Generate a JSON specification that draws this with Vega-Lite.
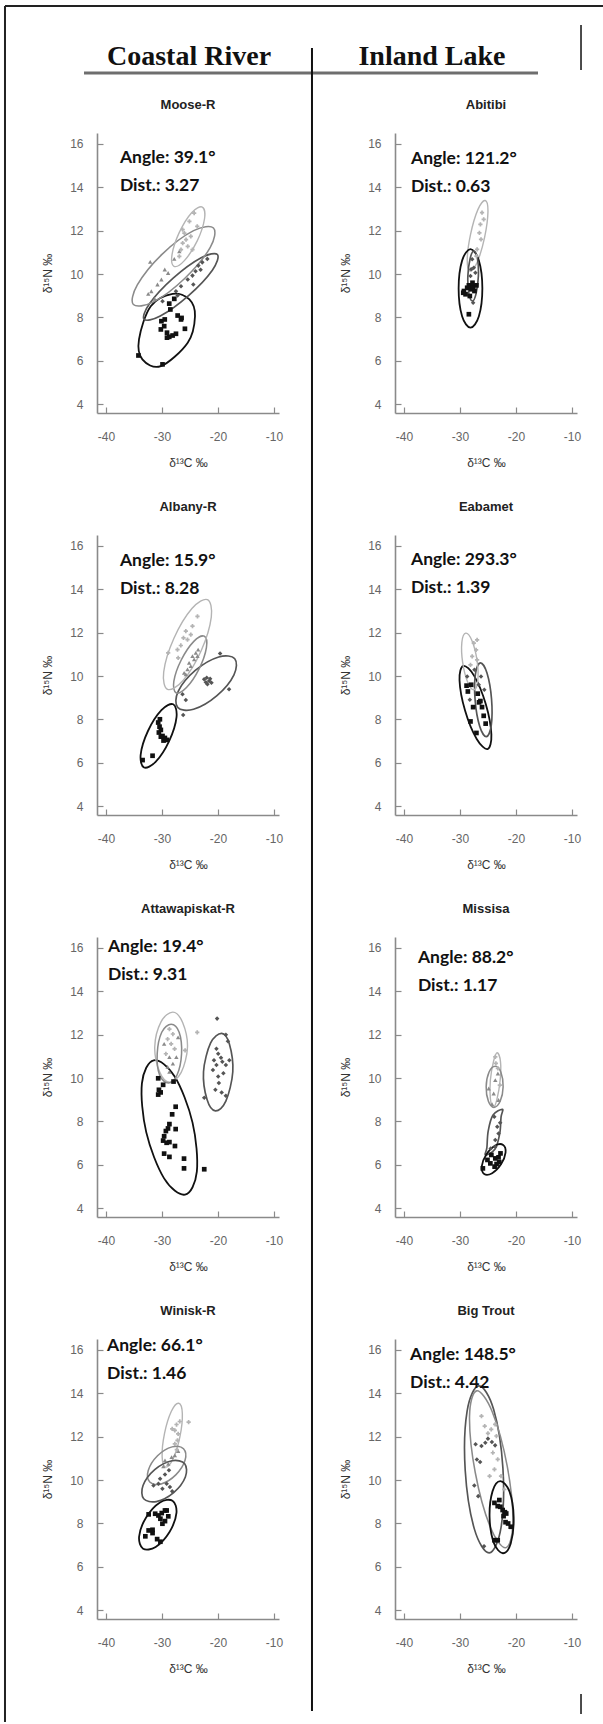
{
"$schema": "https://vega.github.io/schema/vega-lite/v6.json",
"padding": {"left": 3, "top": 5, "right": 0, "bottom": 0},
"background": "white",
"datasets": {
"ann": [
{"p":"Moose-R","t":"Angle: 39.1°\nDist.: 3.27"},
{"p":"Abitibi","t":"Angle: 121.2°\nDist.: 0.63"},
{"p":"Albany-R","t":"Angle: 15.9°\nDist.: 8.28"},
{"p":"Eabamet","t":"Angle: 293.3°\nDist.: 1.39"},
{"p":"Attawapiskat-R","t":"Angle: 19.4°\nDist.: 9.31"},
{"p":"Missisa","t":"Angle: 88.2°\nDist.: 1.17"},
{"p":"Winisk-R","t":"Angle: 66.1°\nDist.: 1.46"},
{"p":"Big Trout","t":"Angle: 148.5°\nDist.: 4.42"}
],
"ell": [
{"p":"Moose-R","g":"k","k":0,"x":-28.1,"y":9.09},{"p":"Moose-R","g":"k","k":1,"x":-25.1,"y":8.83},{"p":"Moose-R","g":"k","k":2,"x":-24.1,"y":8.06},{"p":"Moose-R","g":"k","k":3,"x":-25.4,"y":6.84},{"p":"Moose-R","g":"k","k":4,"x":-30.2,"y":5.76},{"p":"Moose-R","g":"k","k":5,"x":-33.5,"y":6.07},{"p":"Moose-R","g":"k","k":6,"x":-34.1,"y":6.99},{"p":"Moose-R","g":"k","k":7,"x":-32.0,"y":8.52},
{"p":"Moose-R","g":"d","k":0,"x":-20.1,"y":10.9},{"p":"Moose-R","g":"d","k":1,"x":-23.0,"y":10.75},{"p":"Moose-R","g":"d","k":2,"x":-28.0,"y":9.81},{"p":"Moose-R","g":"d","k":3,"x":-32.2,"y":8.64},{"p":"Moose-R","g":"d","k":4,"x":-33.2,"y":7.92},{"p":"Moose-R","g":"d","k":5,"x":-30.3,"y":8.07},{"p":"Moose-R","g":"d","k":6,"x":-25.25,"y":9.01},{"p":"Moose-R","g":"d","k":7,"x":-21.0,"y":10.18},
{"p":"Moose-R","g":"m","k":0,"x":-20.8,"y":12.12},{"p":"Moose-R","g":"m","k":1,"x":-24.35,"y":12.0},{"p":"Moose-R","g":"m","k":2,"x":-30.0,"y":10.91},{"p":"Moose-R","g":"m","k":3,"x":-34.4,"y":9.5},{"p":"Moose-R","g":"m","k":4,"x":-35.1,"y":8.6},{"p":"Moose-R","g":"m","k":5,"x":-31.5,"y":8.72},{"p":"Moose-R","g":"m","k":6,"x":-25.9,"y":9.81},{"p":"Moose-R","g":"m","k":7,"x":-21.4,"y":11.22},
{"p":"Moose-R","g":"l","k":0,"x":-22.8,"y":13.09},{"p":"Moose-R","g":"l","k":1,"x":-24.7,"y":12.83},{"p":"Moose-R","g":"l","k":2,"x":-26.9,"y":11.92},{"p":"Moose-R","g":"l","k":3,"x":-28.2,"y":10.9},{"p":"Moose-R","g":"l","k":4,"x":-27.85,"y":10.36},{"p":"Moose-R","g":"l","k":5,"x":-26.0,"y":10.62},{"p":"Moose-R","g":"l","k":6,"x":-23.7,"y":11.53},{"p":"Moose-R","g":"l","k":7,"x":-22.4,"y":12.55},
{"p":"Abitibi","g":"l","k":0,"x":-25.5,"y":13.39},{"p":"Abitibi","g":"l","k":1,"x":-26.8,"y":12.97},{"p":"Abitibi","g":"l","k":2,"x":-28.1,"y":11.84},{"p":"Abitibi","g":"l","k":3,"x":-28.7,"y":10.67},{"p":"Abitibi","g":"l","k":4,"x":-28.2,"y":10.14},{"p":"Abitibi","g":"l","k":5,"x":-26.9,"y":10.56},{"p":"Abitibi","g":"l","k":6,"x":-25.6,"y":11.69},{"p":"Abitibi","g":"l","k":7,"x":-25.0,"y":12.87},
{"p":"Abitibi","g":"k","k":0,"x":-28.12,"y":11.15},{"p":"Abitibi","g":"k","k":1,"x":-26.62,"y":10.62},{"p":"Abitibi","g":"k","k":2,"x":-26.0,"y":9.34},{"p":"Abitibi","g":"k","k":3,"x":-26.62,"y":8.06},{"p":"Abitibi","g":"k","k":4,"x":-28.12,"y":7.53},{"p":"Abitibi","g":"k","k":5,"x":-29.62,"y":8.06},{"p":"Abitibi","g":"k","k":6,"x":-30.24,"y":9.34},{"p":"Abitibi","g":"k","k":7,"x":-29.62,"y":10.62},
{"p":"Abitibi","g":"d","k":0,"x":-27.53,"y":11.06},{"p":"Abitibi","g":"d","k":1,"x":-26.88,"y":10.72},{"p":"Abitibi","g":"d","k":2,"x":-26.71,"y":9.91},{"p":"Abitibi","g":"d","k":3,"x":-27.12,"y":9.1},{"p":"Abitibi","g":"d","k":4,"x":-27.76,"y":8.76},{"p":"Abitibi","g":"d","k":5,"x":-28.41,"y":9.1},{"p":"Abitibi","g":"d","k":6,"x":-28.59,"y":9.91},{"p":"Abitibi","g":"d","k":7,"x":-28.18,"y":10.72},
{"p":"Albany-R","g":"k","k":0,"x":-28.0,"y":8.7},{"p":"Albany-R","g":"k","k":1,"x":-30.1,"y":8.43},{"p":"Albany-R","g":"k","k":2,"x":-32.5,"y":7.47},{"p":"Albany-R","g":"k","k":3,"x":-33.8,"y":6.38},{"p":"Albany-R","g":"k","k":4,"x":-33.2,"y":5.79},{"p":"Albany-R","g":"k","k":5,"x":-31.1,"y":6.06},{"p":"Albany-R","g":"k","k":6,"x":-28.7,"y":7.02},{"p":"Albany-R","g":"k","k":7,"x":-27.4,"y":8.11},
{"p":"Albany-R","g":"d","k":0,"x":-17.0,"y":10.8},{"p":"Albany-R","g":"d","k":1,"x":-19.87,"y":10.88},{"p":"Albany-R","g":"d","k":2,"x":-24.05,"y":10.26},{"p":"Albany-R","g":"d","k":3,"x":-27.1,"y":9.3},{"p":"Albany-R","g":"d","k":4,"x":-27.2,"y":8.56},{"p":"Albany-R","g":"d","k":5,"x":-24.36,"y":8.47},{"p":"Albany-R","g":"d","k":6,"x":-20.18,"y":9.1},{"p":"Albany-R","g":"d","k":7,"x":-17.14,"y":10.06},
{"p":"Albany-R","g":"m","k":0,"x":-22.44,"y":11.84},{"p":"Albany-R","g":"m","k":1,"x":-24.31,"y":11.6},{"p":"Albany-R","g":"m","k":2,"x":-26.56,"y":10.74},{"p":"Albany-R","g":"m","k":3,"x":-27.88,"y":9.76},{"p":"Albany-R","g":"m","k":4,"x":-27.49,"y":9.23},{"p":"Albany-R","g":"m","k":5,"x":-25.62,"y":9.47},{"p":"Albany-R","g":"m","k":6,"x":-23.37,"y":10.33},{"p":"Albany-R","g":"m","k":7,"x":-22.06,"y":11.31},
{"p":"Albany-R","g":"l","k":0,"x":-21.88,"y":13.52},{"p":"Albany-R","g":"l","k":1,"x":-24.65,"y":13.11},{"p":"Albany-R","g":"l","k":2,"x":-27.88,"y":11.73},{"p":"Albany-R","g":"l","k":3,"x":-29.69,"y":10.19},{"p":"Albany-R","g":"l","k":4,"x":-29.0,"y":9.39},{"p":"Albany-R","g":"l","k":5,"x":-26.23,"y":9.8},{"p":"Albany-R","g":"l","k":6,"x":-23.0,"y":11.17},{"p":"Albany-R","g":"l","k":7,"x":-21.19,"y":12.72},
{"p":"Eabamet","g":"k","k":0,"x":-25.06,"y":6.64},{"p":"Eabamet","g":"k","k":1,"x":-27.01,"y":7.1},{"p":"Eabamet","g":"k","k":2,"x":-29.09,"y":8.41},{"p":"Eabamet","g":"k","k":3,"x":-30.08,"y":9.81},{"p":"Eabamet","g":"k","k":4,"x":-29.41,"y":10.47},{"p":"Eabamet","g":"k","k":5,"x":-27.46,"y":10.01},{"p":"Eabamet","g":"k","k":6,"x":-25.38,"y":8.7},{"p":"Eabamet","g":"k","k":7,"x":-24.39,"y":7.31},
{"p":"Eabamet","g":"d","k":0,"x":-25.29,"y":7.21},{"p":"Eabamet","g":"d","k":1,"x":-26.48,"y":7.69},{"p":"Eabamet","g":"d","k":2,"x":-27.29,"y":8.88},{"p":"Eabamet","g":"d","k":3,"x":-27.24,"y":10.09},{"p":"Eabamet","g":"d","k":4,"x":-26.35,"y":10.61},{"p":"Eabamet","g":"d","k":5,"x":-25.16,"y":10.13},{"p":"Eabamet","g":"d","k":6,"x":-24.36,"y":8.94},{"p":"Eabamet","g":"d","k":7,"x":-24.41,"y":7.73},
{"p":"Eabamet","g":"l","k":0,"x":-27.5,"y":9.37},{"p":"Eabamet","g":"l","k":1,"x":-28.62,"y":9.72},{"p":"Eabamet","g":"l","k":2,"x":-29.52,"y":10.63},{"p":"Eabamet","g":"l","k":3,"x":-29.66,"y":11.56},{"p":"Eabamet","g":"l","k":4,"x":-28.97,"y":11.98},{"p":"Eabamet","g":"l","k":5,"x":-27.85,"y":11.63},{"p":"Eabamet","g":"l","k":6,"x":-26.95,"y":10.72},{"p":"Eabamet","g":"l","k":7,"x":-26.81,"y":9.79},
{"p":"Attawapiskat-R","g":"k","k":0,"x":-25.87,"y":4.63},{"p":"Attawapiskat-R","g":"k","k":1,"x":-29.62,"y":5.38},{"p":"Attawapiskat-R","g":"k","k":2,"x":-32.81,"y":7.51},{"p":"Attawapiskat-R","g":"k","k":3,"x":-33.58,"y":9.76},{"p":"Attawapiskat-R","g":"k","k":4,"x":-31.47,"y":10.82},{"p":"Attawapiskat-R","g":"k","k":5,"x":-27.73,"y":10.07},{"p":"Attawapiskat-R","g":"k","k":6,"x":-24.54,"y":7.95},{"p":"Attawapiskat-R","g":"k","k":7,"x":-23.77,"y":5.69},
{"p":"Attawapiskat-R","g":"l","k":0,"x":-28.05,"y":13.04},{"p":"Attawapiskat-R","g":"l","k":1,"x":-26.31,"y":12.56},{"p":"Attawapiskat-R","g":"l","k":2,"x":-25.44,"y":11.43},{"p":"Attawapiskat-R","g":"l","k":3,"x":-26.56,"y":10.26},{"p":"Attawapiskat-R","g":"l","k":4,"x":-28.67,"y":9.81},{"p":"Attawapiskat-R","g":"l","k":5,"x":-30.42,"y":10.29},{"p":"Attawapiskat-R","g":"l","k":6,"x":-31.29,"y":11.43},{"p":"Attawapiskat-R","g":"l","k":7,"x":-30.17,"y":12.59},
{"p":"Attawapiskat-R","g":"m","k":0,"x":-28.36,"y":12.48},{"p":"Attawapiskat-R","g":"m","k":1,"x":-26.93,"y":12.11},{"p":"Attawapiskat-R","g":"m","k":2,"x":-26.5,"y":11.12},{"p":"Attawapiskat-R","g":"m","k":3,"x":-27.31,"y":10.14},{"p":"Attawapiskat-R","g":"m","k":4,"x":-28.86,"y":9.77},{"p":"Attawapiskat-R","g":"m","k":5,"x":-30.42,"y":10.14},{"p":"Attawapiskat-R","g":"m","k":6,"x":-30.85,"y":11.12},{"p":"Attawapiskat-R","g":"m","k":7,"x":-30.04,"y":12.11},
{"p":"Attawapiskat-R","g":"d","k":0,"x":-19.34,"y":12.06},{"p":"Attawapiskat-R","g":"d","k":1,"x":-17.97,"y":11.58},{"p":"Attawapiskat-R","g":"d","k":2,"x":-17.35,"y":10.29},{"p":"Attawapiskat-R","g":"d","k":3,"x":-18.59,"y":8.94},{"p":"Attawapiskat-R","g":"d","k":4,"x":-20.46,"y":8.49},{"p":"Attawapiskat-R","g":"d","k":5,"x":-21.95,"y":9.01},{"p":"Attawapiskat-R","g":"d","k":6,"x":-22.58,"y":10.29},{"p":"Attawapiskat-R","g":"d","k":7,"x":-21.33,"y":11.61},
{"p":"Missisa","g":"l","k":0,"x":-23.34,"y":11.17},{"p":"Missisa","g":"l","k":1,"x":-22.76,"y":10.75},{"p":"Missisa","g":"l","k":2,"x":-22.82,"y":9.91},{"p":"Missisa","g":"l","k":3,"x":-23.4,"y":9.02},{"p":"Missisa","g":"l","k":4,"x":-24.04,"y":8.65},{"p":"Missisa","g":"l","k":5,"x":-24.57,"y":9.06},{"p":"Missisa","g":"l","k":6,"x":-24.57,"y":9.91},{"p":"Missisa","g":"l","k":7,"x":-23.98,"y":10.8},
{"p":"Missisa","g":"m","k":0,"x":-23.69,"y":10.55},{"p":"Missisa","g":"m","k":1,"x":-22.7,"y":10.28},{"p":"Missisa","g":"m","k":2,"x":-22.29,"y":9.6},{"p":"Missisa","g":"m","k":3,"x":-22.82,"y":8.93},{"p":"Missisa","g":"m","k":4,"x":-23.93,"y":8.65},{"p":"Missisa","g":"m","k":5,"x":-24.92,"y":8.93},{"p":"Missisa","g":"m","k":6,"x":-25.32,"y":9.6},{"p":"Missisa","g":"m","k":7,"x":-24.8,"y":10.28},
{"p":"Missisa","g":"d","k":0,"x":-22.41,"y":8.56},{"p":"Missisa","g":"d","k":1,"x":-24.12,"y":8.29},{"p":"Missisa","g":"d","k":2,"x":-24.96,"y":7.56},{"p":"Missisa","g":"d","k":3,"x":-25.19,"y":6.8},{"p":"Missisa","g":"d","k":4,"x":-25.44,"y":6.46},{"p":"Missisa","g":"d","k":5,"x":-23.73,"y":6.73},{"p":"Missisa","g":"d","k":6,"x":-22.89,"y":7.45},{"p":"Missisa","g":"d","k":7,"x":-22.66,"y":8.21},
{"p":"Missisa","g":"k","k":0,"x":-22.29,"y":6.92},{"p":"Missisa","g":"k","k":1,"x":-23.71,"y":6.89},{"p":"Missisa","g":"k","k":2,"x":-25.29,"y":6.48},{"p":"Missisa","g":"k","k":3,"x":-26.1,"y":5.94},{"p":"Missisa","g":"k","k":4,"x":-25.67,"y":5.58},{"p":"Missisa","g":"k","k":5,"x":-24.25,"y":5.62},{"p":"Missisa","g":"k","k":6,"x":-22.67,"y":6.03},{"p":"Missisa","g":"k","k":7,"x":-21.86,"y":6.57},
{"p":"Winisk-R","g":"l","k":0,"x":-27.0,"y":13.54},{"p":"Winisk-R","g":"l","k":1,"x":-28.32,"y":13.17},{"p":"Winisk-R","g":"l","k":2,"x":-29.54,"y":12.15},{"p":"Winisk-R","g":"l","k":3,"x":-29.97,"y":11.08},{"p":"Winisk-R","g":"l","k":4,"x":-29.34,"y":10.6},{"p":"Winisk-R","g":"l","k":5,"x":-28.01,"y":10.98},{"p":"Winisk-R","g":"l","k":6,"x":-26.79,"y":12.0},{"p":"Winisk-R","g":"l","k":7,"x":-26.36,"y":13.06},
{"p":"Winisk-R","g":"m","k":0,"x":-26.15,"y":11.44},{"p":"Winisk-R","g":"m","k":1,"x":-28.18,"y":11.53},{"p":"Winisk-R","g":"m","k":2,"x":-30.79,"y":11.12},{"p":"Winisk-R","g":"m","k":3,"x":-32.45,"y":10.44},{"p":"Winisk-R","g":"m","k":4,"x":-32.18,"y":9.91},{"p":"Winisk-R","g":"m","k":5,"x":-30.14,"y":9.82},{"p":"Winisk-R","g":"m","k":6,"x":-27.53,"y":10.24},{"p":"Winisk-R","g":"m","k":7,"x":-25.88,"y":10.91},
{"p":"Winisk-R","g":"d","k":0,"x":-25.94,"y":10.75},{"p":"Winisk-R","g":"d","k":1,"x":-28.21,"y":10.89},{"p":"Winisk-R","g":"d","k":2,"x":-31.29,"y":10.48},{"p":"Winisk-R","g":"d","k":3,"x":-33.38,"y":9.75},{"p":"Winisk-R","g":"d","k":4,"x":-33.26,"y":9.14},{"p":"Winisk-R","g":"d","k":5,"x":-30.99,"y":9.01},{"p":"Winisk-R","g":"d","k":6,"x":-27.91,"y":9.42},{"p":"Winisk-R","g":"d","k":7,"x":-25.82,"y":10.14},
{"p":"Winisk-R","g":"k","k":0,"x":-28.12,"y":9.05},{"p":"Winisk-R","g":"k","k":1,"x":-30.36,"y":8.97},{"p":"Winisk-R","g":"k","k":2,"x":-32.83,"y":8.28},{"p":"Winisk-R","g":"k","k":3,"x":-34.08,"y":7.4},{"p":"Winisk-R","g":"k","k":4,"x":-33.37,"y":6.84},{"p":"Winisk-R","g":"k","k":5,"x":-31.12,"y":6.92},{"p":"Winisk-R","g":"k","k":6,"x":-28.65,"y":7.61},{"p":"Winisk-R","g":"k","k":7,"x":-27.41,"y":8.49},
{"p":"Big Trout","g":"d","k":0,"x":-24.77,"y":6.65},{"p":"Big Trout","g":"d","k":1,"x":-27.42,"y":7.74},{"p":"Big Trout","g":"d","k":2,"x":-29.06,"y":10.44},{"p":"Big Trout","g":"d","k":3,"x":-28.73,"y":13.17},{"p":"Big Trout","g":"d","k":4,"x":-26.63,"y":14.34},{"p":"Big Trout","g":"d","k":5,"x":-23.98,"y":13.25},{"p":"Big Trout","g":"d","k":6,"x":-22.33,"y":10.55},{"p":"Big Trout","g":"d","k":7,"x":-22.66,"y":7.82},
{"p":"Big Trout","g":"m","k":0,"x":-21.8,"y":6.88},{"p":"Big Trout","g":"m","k":1,"x":-24.59,"y":7.84},{"p":"Big Trout","g":"m","k":2,"x":-27.27,"y":10.35},{"p":"Big Trout","g":"m","k":3,"x":-28.29,"y":12.94},{"p":"Big Trout","g":"m","k":4,"x":-27.03,"y":14.11},{"p":"Big Trout","g":"m","k":5,"x":-24.24,"y":13.15},{"p":"Big Trout","g":"m","k":6,"x":-21.56,"y":10.64},{"p":"Big Trout","g":"m","k":7,"x":-20.55,"y":8.04},
{"p":"Big Trout","g":"k","k":0,"x":-22.79,"y":9.95},{"p":"Big Trout","g":"k","k":1,"x":-21.16,"y":9.48},{"p":"Big Trout","g":"k","k":2,"x":-20.41,"y":8.29},{"p":"Big Trout","g":"k","k":3,"x":-20.93,"y":7.08},{"p":"Big Trout","g":"k","k":4,"x":-22.33,"y":6.63},{"p":"Big Trout","g":"k","k":5,"x":-23.95,"y":7.11},{"p":"Big Trout","g":"k","k":6,"x":-24.71,"y":8.29},{"p":"Big Trout","g":"k","k":7,"x":-24.19,"y":9.48}
],
"pts": [
{"p":"Moose-R","g":"k","x":-34.2,"y":6.25},{"p":"Moose-R","g":"k","x":-29.9,"y":5.84},{"p":"Moose-R","g":"k","x":-28.7,"y":8.64},{"p":"Moose-R","g":"k","x":-28.5,"y":8.37},{"p":"Moose-R","g":"k","x":-27.2,"y":8.09},{"p":"Moose-R","g":"k","x":-26.6,"y":7.91},{"p":"Moose-R","g":"k","x":-30.1,"y":7.83},{"p":"Moose-R","g":"k","x":-29.6,"y":7.6},{"p":"Moose-R","g":"k","x":-30.2,"y":7.45},{"p":"Moose-R","g":"k","x":-29.1,"y":7.3},{"p":"Moose-R","g":"k","x":-28.7,"y":7.11},{"p":"Moose-R","g":"k","x":-28.1,"y":7.17},{"p":"Moose-R","g":"k","x":-27.5,"y":7.25},{"p":"Moose-R","g":"k","x":-25.9,"y":7.48},{"p":"Moose-R","g":"k","x":-26.5,"y":7.98},{"p":"Moose-R","g":"k","x":-29.5,"y":7.91},{"p":"Moose-R","g":"k","x":-27.8,"y":8.86},{"p":"Moose-R","g":"k","x":-29.1,"y":7.07},
{"p":"Moose-R","g":"d","x":-27.5,"y":9.21},{"p":"Moose-R","g":"d","x":-26.6,"y":9.44},{"p":"Moose-R","g":"d","x":-25.4,"y":9.75},{"p":"Moose-R","g":"d","x":-24.55,"y":9.93},{"p":"Moose-R","g":"d","x":-24.0,"y":10.13},{"p":"Moose-R","g":"d","x":-23.5,"y":10.39},{"p":"Moose-R","g":"d","x":-22.8,"y":10.54},{"p":"Moose-R","g":"d","x":-21.9,"y":10.7},{"p":"Moose-R","g":"d","x":-24.4,"y":9.52},{"p":"Moose-R","g":"d","x":-27.2,"y":9.01},{"p":"Moose-R","g":"d","x":-29.9,"y":8.75},{"p":"Moose-R","g":"d","x":-23.1,"y":10.2},
{"p":"Moose-R","g":"m","x":-32.1,"y":10.56},{"p":"Moose-R","g":"m","x":-31.9,"y":9.21},{"p":"Moose-R","g":"m","x":-30.8,"y":9.52},{"p":"Moose-R","g":"m","x":-30.1,"y":9.75},{"p":"Moose-R","g":"m","x":-28.9,"y":10.05},{"p":"Moose-R","g":"m","x":-32.45,"y":9.09},{"p":"Moose-R","g":"m","x":-31.3,"y":8.86},{"p":"Moose-R","g":"m","x":-29.5,"y":10.21},{"p":"Moose-R","g":"m","x":-27.8,"y":10.7},{"p":"Moose-R","g":"m","x":-26.9,"y":11.05},
{"p":"Moose-R","g":"l","x":-24.25,"y":12.81},{"p":"Moose-R","g":"l","x":-25.1,"y":12.43},{"p":"Moose-R","g":"l","x":-26.0,"y":11.89},{"p":"Moose-R","g":"l","x":-26.3,"y":11.43},{"p":"Moose-R","g":"l","x":-25.7,"y":11.59},{"p":"Moose-R","g":"l","x":-24.85,"y":11.74},{"p":"Moose-R","g":"l","x":-25.4,"y":11.28},{"p":"Moose-R","g":"l","x":-26.6,"y":11.13},{"p":"Moose-R","g":"l","x":-24.55,"y":11.13},{"p":"Moose-R","g":"l","x":-26.9,"y":10.82},{"p":"Moose-R","g":"l","x":-23.7,"y":12.2},{"p":"Moose-R","g":"l","x":-26.3,"y":12.05},
{"p":"Abitibi","g":"k","x":-29.29,"y":9.22},{"p":"Abitibi","g":"k","x":-28.71,"y":9.37},{"p":"Abitibi","g":"k","x":-28.41,"y":9.48},{"p":"Abitibi","g":"k","x":-28.0,"y":9.3},{"p":"Abitibi","g":"k","x":-27.65,"y":9.42},{"p":"Abitibi","g":"k","x":-27.41,"y":9.22},{"p":"Abitibi","g":"k","x":-27.06,"y":9.48},{"p":"Abitibi","g":"k","x":-29.0,"y":9.07},{"p":"Abitibi","g":"k","x":-28.24,"y":8.99},{"p":"Abitibi","g":"k","x":-27.76,"y":9.6},{"p":"Abitibi","g":"k","x":-28.41,"y":8.15},{"p":"Abitibi","g":"k","x":-29.41,"y":9.14},
{"p":"Abitibi","g":"d","x":-27.82,"y":10.68},{"p":"Abitibi","g":"d","x":-27.53,"y":10.29},{"p":"Abitibi","g":"d","x":-28.12,"y":9.91},{"p":"Abitibi","g":"d","x":-27.24,"y":10.06},{"p":"Abitibi","g":"d","x":-27.65,"y":8.68},{"p":"Abitibi","g":"d","x":-28.0,"y":10.22},
{"p":"Abitibi","g":"l","x":-26.06,"y":12.83},{"p":"Abitibi","g":"l","x":-26.35,"y":12.29},{"p":"Abitibi","g":"l","x":-26.53,"y":11.9},{"p":"Abitibi","g":"l","x":-26.24,"y":11.6},{"p":"Abitibi","g":"l","x":-26.94,"y":11.14},{"p":"Abitibi","g":"l","x":-27.06,"y":10.83},{"p":"Abitibi","g":"l","x":-25.76,"y":12.52},
{"p":"Albany-R","g":"k","x":-33.46,"y":6.13},{"p":"Albany-R","g":"k","x":-31.68,"y":6.33},{"p":"Albany-R","g":"k","x":-30.67,"y":7.86},{"p":"Albany-R","g":"k","x":-30.43,"y":7.67},{"p":"Albany-R","g":"k","x":-30.2,"y":7.52},{"p":"Albany-R","g":"k","x":-30.55,"y":7.4},{"p":"Albany-R","g":"k","x":-29.9,"y":7.24},{"p":"Albany-R","g":"k","x":-29.48,"y":7.15},{"p":"Albany-R","g":"k","x":-29.13,"y":7.06},{"p":"Albany-R","g":"k","x":-29.72,"y":7.03},{"p":"Albany-R","g":"k","x":-30.2,"y":7.21},{"p":"Albany-R","g":"k","x":-30.37,"y":8.01},
{"p":"Albany-R","g":"d","x":-22.47,"y":9.85},{"p":"Albany-R","g":"d","x":-22.0,"y":9.92},{"p":"Albany-R","g":"d","x":-21.58,"y":9.77},{"p":"Albany-R","g":"d","x":-21.16,"y":9.69},{"p":"Albany-R","g":"d","x":-21.88,"y":9.62},{"p":"Albany-R","g":"d","x":-22.17,"y":9.72},{"p":"Albany-R","g":"d","x":-21.4,"y":9.88},{"p":"Albany-R","g":"d","x":-26.33,"y":9.16},{"p":"Albany-R","g":"d","x":-25.74,"y":8.9},{"p":"Albany-R","g":"d","x":-18.02,"y":9.39},{"p":"Albany-R","g":"d","x":-19.62,"y":11.04},{"p":"Albany-R","g":"d","x":-26.21,"y":8.21},
{"p":"Albany-R","g":"m","x":-26.04,"y":10.15},{"p":"Albany-R","g":"m","x":-25.15,"y":10.61},{"p":"Albany-R","g":"m","x":-24.55,"y":10.92},{"p":"Albany-R","g":"m","x":-23.96,"y":11.07},{"p":"Albany-R","g":"m","x":-23.54,"y":11.22},{"p":"Albany-R","g":"m","x":-24.25,"y":10.77},{"p":"Albany-R","g":"m","x":-25.44,"y":10.31},{"p":"Albany-R","g":"m","x":-24.85,"y":10.46},{"p":"Albany-R","g":"m","x":-23.66,"y":10.92},{"p":"Albany-R","g":"m","x":-25.74,"y":10.08},
{"p":"Albany-R","g":"l","x":-23.66,"y":12.75},{"p":"Albany-R","g":"l","x":-24.55,"y":12.3},{"p":"Albany-R","g":"l","x":-25.44,"y":11.68},{"p":"Albany-R","g":"l","x":-26.16,"y":11.76},{"p":"Albany-R","g":"l","x":-27.23,"y":11.22},{"p":"Albany-R","g":"l","x":-26.63,"y":11.41},{"p":"Albany-R","g":"l","x":-24.85,"y":11.91},{"p":"Albany-R","g":"l","x":-28.89,"y":11.07},{"p":"Albany-R","g":"l","x":-25.74,"y":12.07},{"p":"Albany-R","g":"l","x":-27.1,"y":10.84},
{"p":"Eabamet","g":"k","x":-28.82,"y":9.56},{"p":"Eabamet","g":"k","x":-28.59,"y":9.29},{"p":"Eabamet","g":"k","x":-28.0,"y":9.6},{"p":"Eabamet","g":"k","x":-26.82,"y":9.19},{"p":"Eabamet","g":"k","x":-26.59,"y":8.79},{"p":"Eabamet","g":"k","x":-26.06,"y":8.57},{"p":"Eabamet","g":"k","x":-28.12,"y":7.91},{"p":"Eabamet","g":"k","x":-27.06,"y":7.38},{"p":"Eabamet","g":"k","x":-25.76,"y":8.17},{"p":"Eabamet","g":"k","x":-25.41,"y":7.81},{"p":"Eabamet","g":"k","x":-27.65,"y":8.57},{"p":"Eabamet","g":"k","x":-26.35,"y":8.85},
{"p":"Eabamet","g":"d","x":-28.71,"y":9.98},{"p":"Eabamet","g":"d","x":-27.41,"y":10.29},{"p":"Eabamet","g":"d","x":-26.24,"y":9.98},{"p":"Eabamet","g":"d","x":-26.65,"y":9.6},{"p":"Eabamet","g":"d","x":-25.65,"y":9.37},{"p":"Eabamet","g":"d","x":-28.24,"y":8.91},
{"p":"Eabamet","g":"l","x":-27.53,"y":11.52},{"p":"Eabamet","g":"l","x":-27.12,"y":11.21},{"p":"Eabamet","g":"l","x":-27.82,"y":10.91},{"p":"Eabamet","g":"l","x":-26.94,"y":10.75},{"p":"Eabamet","g":"l","x":-28.12,"y":10.52},{"p":"Eabamet","g":"l","x":-26.94,"y":11.67},
{"p":"Attawapiskat-R","g":"k","x":-30.67,"y":9.99},{"p":"Attawapiskat-R","g":"k","x":-29.79,"y":9.69},{"p":"Attawapiskat-R","g":"k","x":-30.23,"y":9.34},{"p":"Attawapiskat-R","g":"k","x":-30.67,"y":9.24},{"p":"Attawapiskat-R","g":"k","x":-27.93,"y":9.84},{"p":"Attawapiskat-R","g":"k","x":-27.55,"y":8.68},{"p":"Attawapiskat-R","g":"k","x":-28.18,"y":8.33},{"p":"Attawapiskat-R","g":"k","x":-28.67,"y":7.88},{"p":"Attawapiskat-R","g":"k","x":-28.92,"y":7.68},{"p":"Attawapiskat-R","g":"k","x":-29.3,"y":7.56},{"p":"Attawapiskat-R","g":"k","x":-29.61,"y":7.32},{"p":"Attawapiskat-R","g":"k","x":-29.79,"y":7.12},{"p":"Attawapiskat-R","g":"k","x":-29.17,"y":7.02},{"p":"Attawapiskat-R","g":"k","x":-28.67,"y":7.05},{"p":"Attawapiskat-R","g":"k","x":-27.55,"y":7.65},{"p":"Attawapiskat-R","g":"k","x":-27.68,"y":6.87},{"p":"Attawapiskat-R","g":"k","x":-29.61,"y":6.52},{"p":"Attawapiskat-R","g":"k","x":-28.67,"y":6.37},{"p":"Attawapiskat-R","g":"k","x":-26.06,"y":6.29},{"p":"Attawapiskat-R","g":"k","x":-26.06,"y":5.84},{"p":"Attawapiskat-R","g":"k","x":-22.45,"y":5.8},{"p":"Attawapiskat-R","g":"k","x":-30.54,"y":9.46},
{"p":"Attawapiskat-R","g":"d","x":-20.15,"y":12.74},{"p":"Attawapiskat-R","g":"d","x":-18.59,"y":12.0},{"p":"Attawapiskat-R","g":"d","x":-18.22,"y":11.7},{"p":"Attawapiskat-R","g":"d","x":-19.96,"y":11.12},{"p":"Attawapiskat-R","g":"d","x":-19.46,"y":10.94},{"p":"Attawapiskat-R","g":"d","x":-20.71,"y":10.82},{"p":"Attawapiskat-R","g":"d","x":-20.27,"y":10.6},{"p":"Attawapiskat-R","g":"d","x":-19.22,"y":10.75},{"p":"Attawapiskat-R","g":"d","x":-18.59,"y":10.6},{"p":"Attawapiskat-R","g":"d","x":-20.9,"y":10.37},{"p":"Attawapiskat-R","g":"d","x":-19.96,"y":10.07},{"p":"Attawapiskat-R","g":"d","x":-19.03,"y":10.22},{"p":"Attawapiskat-R","g":"d","x":-19.84,"y":9.77},{"p":"Attawapiskat-R","g":"d","x":-20.46,"y":9.46},{"p":"Attawapiskat-R","g":"d","x":-22.45,"y":9.09},{"p":"Attawapiskat-R","g":"d","x":-18.59,"y":9.19},{"p":"Attawapiskat-R","g":"d","x":-19.34,"y":9.34},{"p":"Attawapiskat-R","g":"d","x":-17.97,"y":10.82},{"p":"Attawapiskat-R","g":"d","x":-20.27,"y":11.35},
{"p":"Attawapiskat-R","g":"l","x":-23.7,"y":12.11},{"p":"Attawapiskat-R","g":"l","x":-28.67,"y":12.26},{"p":"Attawapiskat-R","g":"l","x":-28.05,"y":12.03},{"p":"Attawapiskat-R","g":"l","x":-28.99,"y":11.8},{"p":"Attawapiskat-R","g":"l","x":-28.36,"y":11.58},{"p":"Attawapiskat-R","g":"l","x":-27.74,"y":11.35},{"p":"Attawapiskat-R","g":"l","x":-29.3,"y":11.12},{"p":"Attawapiskat-R","g":"l","x":-25.87,"y":11.28},
{"p":"Attawapiskat-R","g":"m","x":-28.67,"y":10.97},{"p":"Attawapiskat-R","g":"m","x":-27.43,"y":10.97},{"p":"Attawapiskat-R","g":"m","x":-28.05,"y":10.67},{"p":"Attawapiskat-R","g":"m","x":-28.99,"y":10.52},{"p":"Attawapiskat-R","g":"m","x":-28.67,"y":10.29},{"p":"Attawapiskat-R","g":"m","x":-29.61,"y":11.58},{"p":"Attawapiskat-R","g":"m","x":-27.12,"y":11.88},
{"p":"Missisa","g":"k","x":-25.91,"y":5.84},{"p":"Missisa","g":"k","x":-24.57,"y":6.07},{"p":"Missisa","g":"k","x":-23.69,"y":6.3},{"p":"Missisa","g":"k","x":-23.11,"y":6.35},{"p":"Missisa","g":"k","x":-22.99,"y":6.13},{"p":"Missisa","g":"k","x":-23.81,"y":5.92},{"p":"Missisa","g":"k","x":-22.76,"y":6.53},{"p":"Missisa","g":"k","x":-24.39,"y":6.46},{"p":"Missisa","g":"k","x":-25.09,"y":6.23},{"p":"Missisa","g":"k","x":-23.46,"y":6.04},
{"p":"Missisa","g":"d","x":-23.69,"y":6.84},{"p":"Missisa","g":"d","x":-23.11,"y":7.45},{"p":"Missisa","g":"d","x":-23.34,"y":7.76},{"p":"Missisa","g":"d","x":-23.87,"y":8.22},{"p":"Missisa","g":"d","x":-23.69,"y":7.15},{"p":"Missisa","g":"d","x":-24.51,"y":6.76},{"p":"Missisa","g":"d","x":-22.82,"y":7.94},
{"p":"Missisa","g":"m","x":-24.86,"y":9.52},{"p":"Missisa","g":"m","x":-23.69,"y":9.91},{"p":"Missisa","g":"m","x":-23.11,"y":8.99},{"p":"Missisa","g":"m","x":-23.98,"y":9.29},{"p":"Missisa","g":"m","x":-23.23,"y":10.21},{"p":"Missisa","g":"m","x":-24.27,"y":8.8},
{"p":"Missisa","g":"l","x":-23.58,"y":10.68},{"p":"Missisa","g":"l","x":-23.23,"y":10.45},{"p":"Missisa","g":"l","x":-23.69,"y":10.98},{"p":"Missisa","g":"l","x":-22.88,"y":9.68},
{"p":"Winisk-R","g":"k","x":-32.97,"y":7.41},{"p":"Winisk-R","g":"k","x":-31.68,"y":7.56},{"p":"Winisk-R","g":"k","x":-30.86,"y":7.28},{"p":"Winisk-R","g":"k","x":-30.28,"y":7.16},{"p":"Winisk-R","g":"k","x":-31.21,"y":8.45},{"p":"Winisk-R","g":"k","x":-30.63,"y":8.37},{"p":"Winisk-R","g":"k","x":-30.04,"y":8.48},{"p":"Winisk-R","g":"k","x":-30.28,"y":8.22},{"p":"Winisk-R","g":"k","x":-29.92,"y":7.99},{"p":"Winisk-R","g":"k","x":-29.46,"y":8.11},{"p":"Winisk-R","g":"k","x":-28.87,"y":8.33},{"p":"Winisk-R","g":"k","x":-29.16,"y":8.6},{"p":"Winisk-R","g":"k","x":-32.38,"y":8.42},{"p":"Winisk-R","g":"k","x":-31.68,"y":7.71},{"p":"Winisk-R","g":"k","x":-29.46,"y":8.6},{"p":"Winisk-R","g":"k","x":-32.38,"y":7.68},
{"p":"Winisk-R","g":"d","x":-31.51,"y":9.75},{"p":"Winisk-R","g":"d","x":-30.63,"y":9.83},{"p":"Winisk-R","g":"d","x":-29.92,"y":9.6},{"p":"Winisk-R","g":"d","x":-29.16,"y":9.83},{"p":"Winisk-R","g":"d","x":-28.58,"y":9.68},{"p":"Winisk-R","g":"d","x":-28.17,"y":9.48},{"p":"Winisk-R","g":"d","x":-29.46,"y":10.26},{"p":"Winisk-R","g":"d","x":-28.75,"y":10.45},{"p":"Winisk-R","g":"d","x":-30.33,"y":10.06},
{"p":"Winisk-R","g":"m","x":-29.46,"y":10.91},{"p":"Winisk-R","g":"m","x":-28.28,"y":11.06},{"p":"Winisk-R","g":"m","x":-28.87,"y":10.75},{"p":"Winisk-R","g":"m","x":-27.7,"y":11.14},{"p":"Winisk-R","g":"m","x":-27.11,"y":11.34},{"p":"Winisk-R","g":"m","x":-29.75,"y":10.63},
{"p":"Winisk-R","g":"l","x":-26.82,"y":12.7},{"p":"Winisk-R","g":"l","x":-27.4,"y":12.56},{"p":"Winisk-R","g":"l","x":-27.7,"y":12.29},{"p":"Winisk-R","g":"l","x":-27.11,"y":12.13},{"p":"Winisk-R","g":"l","x":-27.23,"y":11.83},{"p":"Winisk-R","g":"l","x":-27.7,"y":11.67},{"p":"Winisk-R","g":"l","x":-27.35,"y":11.4},{"p":"Winisk-R","g":"l","x":-28.17,"y":12.36},{"p":"Winisk-R","g":"l","x":-25.24,"y":12.67},
{"p":"Big Trout","g":"k","x":-23.84,"y":8.95},{"p":"Big Trout","g":"k","x":-23.26,"y":8.8},{"p":"Big Trout","g":"k","x":-22.79,"y":8.77},{"p":"Big Trout","g":"k","x":-22.38,"y":8.62},{"p":"Big Trout","g":"k","x":-21.98,"y":8.52},{"p":"Big Trout","g":"k","x":-21.74,"y":8.46},{"p":"Big Trout","g":"k","x":-21.86,"y":8.06},{"p":"Big Trout","g":"k","x":-21.4,"y":8.0},{"p":"Big Trout","g":"k","x":-20.93,"y":7.85},{"p":"Big Trout","g":"k","x":-23.84,"y":7.23},{"p":"Big Trout","g":"k","x":-23.26,"y":7.23},{"p":"Big Trout","g":"k","x":-22.97,"y":9.08},{"p":"Big Trout","g":"k","x":-22.21,"y":8.34},
{"p":"Big Trout","g":"d","x":-27.44,"y":9.75},{"p":"Big Trout","g":"d","x":-26.74,"y":9.26},{"p":"Big Trout","g":"d","x":-26.98,"y":10.95},{"p":"Big Trout","g":"d","x":-26.4,"y":10.83},{"p":"Big Trout","g":"d","x":-26.16,"y":11.57},{"p":"Big Trout","g":"d","x":-25.47,"y":11.72},{"p":"Big Trout","g":"d","x":-25.0,"y":11.91},{"p":"Big Trout","g":"d","x":-24.3,"y":11.75},{"p":"Big Trout","g":"d","x":-23.72,"y":11.6},{"p":"Big Trout","g":"d","x":-25.7,"y":6.95},{"p":"Big Trout","g":"d","x":-27.21,"y":11.65},
{"p":"Big Trout","g":"l","x":-26.16,"y":12.95},{"p":"Big Trout","g":"l","x":-25.58,"y":12.49},{"p":"Big Trout","g":"l","x":-25.0,"y":12.15},{"p":"Big Trout","g":"l","x":-24.42,"y":12.34},{"p":"Big Trout","g":"l","x":-23.72,"y":12.57},{"p":"Big Trout","g":"l","x":-23.49,"y":12.03},{"p":"Big Trout","g":"l","x":-24.13,"y":11.26},{"p":"Big Trout","g":"l","x":-23.26,"y":10.95},{"p":"Big Trout","g":"l","x":-23.84,"y":10.49},{"p":"Big Trout","g":"l","x":-24.71,"y":10.18},{"p":"Big Trout","g":"l","x":-22.67,"y":10.18},{"p":"Big Trout","g":"l","x":-22.09,"y":9.57}
]
},
"columns": 2,
"bounds": "flush",
"spacing": {"row": 122, "column": 116},
"concat": [
{"width": 182, "height": 280,
 "layer": [
  {"data": {"name": "ell"}, "transform": [{"filter": {"field": "p", "equal": "Moose-R"}}], "mark": {"type": "line", "interpolate": "cardinal-closed"}, "encoding": {"x": {"field": "x", "type": "quantitative", "title": "δ¹³C ‰", "scale": {"domain": [-41.6, -9.1], "nice": false, "zero": false}, "axis": {"values": [-40,-35,-30,-25,-20,-15,-10], "labelExpr": "datum.value % 10 === 0 ? '-' + abs(datum.value) : ''"}}, "y": {"field": "y", "type": "quantitative", "title": "δ¹⁵N ‰", "scale": {"domain": [3.6, 16.5], "nice": false, "zero": false}, "axis": {"values": [4,6,8,10,12,14,16]}}, "detail": {"field": "g"}, "order": {"field": "k", "type": "quantitative"}, "color": {"field": "g", "type": "nominal", "scale": {"domain": ["k","d","m","l"], "range": ["#111111","#555555","#8a8a8a","#b4b4b4"]}, "legend": null}, "strokeWidth": {"field": "g", "type": "nominal", "scale": {"domain": ["k","d","m","l"], "range": [1.8,1.4,1.2,1.2]}, "legend": null}}},
  {"data": {"name": "pts"}, "transform": [{"filter": {"field": "p", "equal": "Moose-R"}}], "mark": {"type": "point", "filled": true, "opacity": 1}, "encoding": {"x": {"field": "x", "type": "quantitative", "title": "δ¹³C ‰"}, "y": {"field": "y", "type": "quantitative", "title": "δ¹⁵N ‰"}, "color": {"field": "g", "type": "nominal", "scale": {"domain": ["k","d","m","l"], "range": ["#111111","#555555","#8a8a8a","#b4b4b4"]}, "legend": null}, "shape": {"field": "g", "type": "nominal", "scale": {"domain": ["k","d","m","l"], "range": ["square","diamond","triangle-up","cross"]}, "legend": null}, "size": {"field": "g", "type": "nominal", "scale": {"domain": ["k","d","m","l"], "range": [22,18,12,12]}, "legend": null}}},
  {"data": {"name": "ann"}, "transform": [{"filter": {"field": "p", "equal": "Moose-R"}}], "mark": {"type": "text", "font": "Lato", "fontWeight": "bold", "fontSize": 17.5, "align": "left", "baseline": "alphabetic", "lineBreak": "\n", "lineHeight": 28, "color": "#111111", "clip": false}, "encoding": {"x": {"datum": -37.5}, "y": {"datum": 15.12}, "text": {"field": "t"}}},
  {"data": {"name": "ann"}, "transform": [{"filter": {"field": "p", "equal": "Moose-R"}}], "mark": {"type": "text", "font": "Liberation Sans", "fontWeight": "bold", "fontSize": 13, "align": "center", "baseline": "middle", "color": "#222222", "clip": false}, "encoding": {"x": {"datum": -25.35}, "y": {"datum": 17.79}, "text": {"field": "p"}}},
  {"data": {"values": [{}]}, "mark": {"type": "rule", "color": "#222222", "strokeWidth": 2, "clip": false}, "encoding": {"x": {"datum": -58.03}, "y": {"datum": 22.35}, "y2": {"datum": -56.71}}},
  {"data": {"values": [{}]}, "mark": {"type": "rule", "color": "#222222", "strokeWidth": 2, "clip": false}, "encoding": {"x": {"datum": -58.03}, "x2": {"datum": 48.76}, "y": {"datum": 22.35}}},
  {"data": {"values": [{}]}, "mark": {"type": "rule", "color": "#6e6e6e", "strokeWidth": 3, "clip": false}, "encoding": {"x": {"datum": -43.92}, "x2": {"datum": 37.15}, "y": {"datum": 19.264}}},
  {"data": {"values": [{}]}, "mark": {"type": "rule", "color": "#111111", "strokeWidth": 2, "clip": false}, "encoding": {"x": {"datum": -3.21}, "y": {"datum": 20.42}, "y2": {"datum": -56.2}}},
  {"data": {"values": [{}]}, "mark": {"type": "rule", "color": "#111111", "strokeWidth": 1.5, "clip": false}, "encoding": {"x": {"datum": 44.83}, "y": {"datum": 21.48}, "y2": {"datum": 19.4}}},
  {"data": {"values": [{}]}, "mark": {"type": "rule", "color": "#111111", "strokeWidth": 1.5, "clip": false}, "encoding": {"x": {"datum": 44.83}, "y": {"datum": -55.42}, "y2": {"datum": -56.34}}},
  {"data": {"values": [{"h": "Coastal River"}]}, "mark": {"type": "text", "font": "Liberation Serif", "fontWeight": "bold", "fontSize": 28, "align": "center", "baseline": "alphabetic", "color": "#111111", "clip": false}, "encoding": {"x": {"datum": -25.17}, "y": {"datum": 19.63}, "text": {"field": "h"}}},
  {"data": {"values": [{"h": "Inland Lake"}]}, "mark": {"type": "text", "font": "Liberation Serif", "fontWeight": "bold", "fontSize": 28, "align": "center", "baseline": "alphabetic", "color": "#111111", "clip": false}, "encoding": {"x": {"datum": 18.22}, "y": {"datum": 19.63}, "text": {"field": "h"}}}
 ]},
{"width": 182, "height": 280,
 "layer": [
  {"data": {"name": "ell"}, "transform": [{"filter": {"field": "p", "equal": "Abitibi"}}], "mark": {"type": "line", "interpolate": "cardinal-closed"}, "encoding": {"x": {"field": "x", "type": "quantitative", "title": "δ¹³C ‰", "scale": {"domain": [-41.6, -9.1], "nice": false, "zero": false}, "axis": {"values": [-40,-35,-30,-25,-20,-15,-10], "labelExpr": "datum.value % 10 === 0 ? '-' + abs(datum.value) : ''"}}, "y": {"field": "y", "type": "quantitative", "title": "δ¹⁵N ‰", "scale": {"domain": [3.6, 16.5], "nice": false, "zero": false}, "axis": {"values": [4,6,8,10,12,14,16]}}, "detail": {"field": "g"}, "order": {"field": "k", "type": "quantitative"}, "color": {"field": "g", "type": "nominal", "scale": {"domain": ["k","d","m","l"], "range": ["#111111","#555555","#8a8a8a","#b4b4b4"]}, "legend": null}, "strokeWidth": {"field": "g", "type": "nominal", "scale": {"domain": ["k","d","m","l"], "range": [1.8,1.4,1.2,1.2]}, "legend": null}}},
  {"data": {"name": "pts"}, "transform": [{"filter": {"field": "p", "equal": "Abitibi"}}], "mark": {"type": "point", "filled": true, "opacity": 1}, "encoding": {"x": {"field": "x", "type": "quantitative", "title": "δ¹³C ‰"}, "y": {"field": "y", "type": "quantitative", "title": "δ¹⁵N ‰"}, "color": {"field": "g", "type": "nominal", "scale": {"domain": ["k","d","m","l"], "range": ["#111111","#555555","#8a8a8a","#b4b4b4"]}, "legend": null}, "shape": {"field": "g", "type": "nominal", "scale": {"domain": ["k","d","m","l"], "range": ["square","diamond","triangle-up","cross"]}, "legend": null}, "size": {"field": "g", "type": "nominal", "scale": {"domain": ["k","d","m","l"], "range": [22,18,12,12]}, "legend": null}}},
  {"data": {"name": "ann"}, "transform": [{"filter": {"field": "p", "equal": "Abitibi"}}], "mark": {"type": "text", "font": "Lato", "fontWeight": "bold", "fontSize": 17.5, "align": "left", "baseline": "alphabetic", "lineBreak": "\n", "lineHeight": 28, "color": "#111111", "clip": false}, "encoding": {"x": {"datum": -38.74}, "y": {"datum": 15.05}, "text": {"field": "t"}}},
  {"data": {"name": "ann"}, "transform": [{"filter": {"field": "p", "equal": "Abitibi"}}], "mark": {"type": "text", "font": "Liberation Sans", "fontWeight": "bold", "fontSize": 13, "align": "center", "baseline": "middle", "color": "#222222", "clip": false}, "encoding": {"x": {"datum": -25.35}, "y": {"datum": 17.79}, "text": {"field": "p"}}}
 ]},
{"width": 182, "height": 280,
 "layer": [
  {"data": {"name": "ell"}, "transform": [{"filter": {"field": "p", "equal": "Albany-R"}}], "mark": {"type": "line", "interpolate": "cardinal-closed"}, "encoding": {"x": {"field": "x", "type": "quantitative", "title": "δ¹³C ‰", "scale": {"domain": [-41.6, -9.1], "nice": false, "zero": false}, "axis": {"values": [-40,-35,-30,-25,-20,-15,-10], "labelExpr": "datum.value % 10 === 0 ? '-' + abs(datum.value) : ''"}}, "y": {"field": "y", "type": "quantitative", "title": "δ¹⁵N ‰", "scale": {"domain": [3.6, 16.5], "nice": false, "zero": false}, "axis": {"values": [4,6,8,10,12,14,16]}}, "detail": {"field": "g"}, "order": {"field": "k", "type": "quantitative"}, "color": {"field": "g", "type": "nominal", "scale": {"domain": ["k","d","m","l"], "range": ["#111111","#555555","#8a8a8a","#b4b4b4"]}, "legend": null}, "strokeWidth": {"field": "g", "type": "nominal", "scale": {"domain": ["k","d","m","l"], "range": [1.8,1.4,1.2,1.2]}, "legend": null}}},
  {"data": {"name": "pts"}, "transform": [{"filter": {"field": "p", "equal": "Albany-R"}}], "mark": {"type": "point", "filled": true, "opacity": 1}, "encoding": {"x": {"field": "x", "type": "quantitative", "title": "δ¹³C ‰"}, "y": {"field": "y", "type": "quantitative", "title": "δ¹⁵N ‰"}, "color": {"field": "g", "type": "nominal", "scale": {"domain": ["k","d","m","l"], "range": ["#111111","#555555","#8a8a8a","#b4b4b4"]}, "legend": null}, "shape": {"field": "g", "type": "nominal", "scale": {"domain": ["k","d","m","l"], "range": ["square","diamond","triangle-up","cross"]}, "legend": null}, "size": {"field": "g", "type": "nominal", "scale": {"domain": ["k","d","m","l"], "range": [22,18,12,12]}, "legend": null}}},
  {"data": {"name": "ann"}, "transform": [{"filter": {"field": "p", "equal": "Albany-R"}}], "mark": {"type": "text", "font": "Lato", "fontWeight": "bold", "fontSize": 17.5, "align": "left", "baseline": "alphabetic", "lineBreak": "\n", "lineHeight": 28, "color": "#111111", "clip": false}, "encoding": {"x": {"datum": -37.5}, "y": {"datum": 15.08}, "text": {"field": "t"}}},
  {"data": {"name": "ann"}, "transform": [{"filter": {"field": "p", "equal": "Albany-R"}}], "mark": {"type": "text", "font": "Liberation Sans", "fontWeight": "bold", "fontSize": 13, "align": "center", "baseline": "middle", "color": "#222222", "clip": false}, "encoding": {"x": {"datum": -25.35}, "y": {"datum": 17.79}, "text": {"field": "p"}}}
 ]},
{"width": 182, "height": 280,
 "layer": [
  {"data": {"name": "ell"}, "transform": [{"filter": {"field": "p", "equal": "Eabamet"}}], "mark": {"type": "line", "interpolate": "cardinal-closed"}, "encoding": {"x": {"field": "x", "type": "quantitative", "title": "δ¹³C ‰", "scale": {"domain": [-41.6, -9.1], "nice": false, "zero": false}, "axis": {"values": [-40,-35,-30,-25,-20,-15,-10], "labelExpr": "datum.value % 10 === 0 ? '-' + abs(datum.value) : ''"}}, "y": {"field": "y", "type": "quantitative", "title": "δ¹⁵N ‰", "scale": {"domain": [3.6, 16.5], "nice": false, "zero": false}, "axis": {"values": [4,6,8,10,12,14,16]}}, "detail": {"field": "g"}, "order": {"field": "k", "type": "quantitative"}, "color": {"field": "g", "type": "nominal", "scale": {"domain": ["k","d","m","l"], "range": ["#111111","#555555","#8a8a8a","#b4b4b4"]}, "legend": null}, "strokeWidth": {"field": "g", "type": "nominal", "scale": {"domain": ["k","d","m","l"], "range": [1.8,1.4,1.2,1.2]}, "legend": null}}},
  {"data": {"name": "pts"}, "transform": [{"filter": {"field": "p", "equal": "Eabamet"}}], "mark": {"type": "point", "filled": true, "opacity": 1}, "encoding": {"x": {"field": "x", "type": "quantitative", "title": "δ¹³C ‰"}, "y": {"field": "y", "type": "quantitative", "title": "δ¹⁵N ‰"}, "color": {"field": "g", "type": "nominal", "scale": {"domain": ["k","d","m","l"], "range": ["#111111","#555555","#8a8a8a","#b4b4b4"]}, "legend": null}, "shape": {"field": "g", "type": "nominal", "scale": {"domain": ["k","d","m","l"], "range": ["square","diamond","triangle-up","cross"]}, "legend": null}, "size": {"field": "g", "type": "nominal", "scale": {"domain": ["k","d","m","l"], "range": [22,18,12,12]}, "legend": null}}},
  {"data": {"name": "ann"}, "transform": [{"filter": {"field": "p", "equal": "Eabamet"}}], "mark": {"type": "text", "font": "Lato", "fontWeight": "bold", "fontSize": 17.5, "align": "left", "baseline": "alphabetic", "lineBreak": "\n", "lineHeight": 28, "color": "#111111", "clip": false}, "encoding": {"x": {"datum": -38.74}, "y": {"datum": 15.1}, "text": {"field": "t"}}},
  {"data": {"name": "ann"}, "transform": [{"filter": {"field": "p", "equal": "Eabamet"}}], "mark": {"type": "text", "font": "Liberation Sans", "fontWeight": "bold", "fontSize": 13, "align": "center", "baseline": "middle", "color": "#222222", "clip": false}, "encoding": {"x": {"datum": -25.35}, "y": {"datum": 17.79}, "text": {"field": "p"}}}
 ]},
{"width": 182, "height": 280,
 "layer": [
  {"data": {"name": "ell"}, "transform": [{"filter": {"field": "p", "equal": "Attawapiskat-R"}}], "mark": {"type": "line", "interpolate": "cardinal-closed"}, "encoding": {"x": {"field": "x", "type": "quantitative", "title": "δ¹³C ‰", "scale": {"domain": [-41.6, -9.1], "nice": false, "zero": false}, "axis": {"values": [-40,-35,-30,-25,-20,-15,-10], "labelExpr": "datum.value % 10 === 0 ? '-' + abs(datum.value) : ''"}}, "y": {"field": "y", "type": "quantitative", "title": "δ¹⁵N ‰", "scale": {"domain": [3.6, 16.5], "nice": false, "zero": false}, "axis": {"values": [4,6,8,10,12,14,16]}}, "detail": {"field": "g"}, "order": {"field": "k", "type": "quantitative"}, "color": {"field": "g", "type": "nominal", "scale": {"domain": ["k","d","m","l"], "range": ["#111111","#555555","#8a8a8a","#b4b4b4"]}, "legend": null}, "strokeWidth": {"field": "g", "type": "nominal", "scale": {"domain": ["k","d","m","l"], "range": [1.8,1.4,1.2,1.2]}, "legend": null}}},
  {"data": {"name": "pts"}, "transform": [{"filter": {"field": "p", "equal": "Attawapiskat-R"}}], "mark": {"type": "point", "filled": true, "opacity": 1}, "encoding": {"x": {"field": "x", "type": "quantitative", "title": "δ¹³C ‰"}, "y": {"field": "y", "type": "quantitative", "title": "δ¹⁵N ‰"}, "color": {"field": "g", "type": "nominal", "scale": {"domain": ["k","d","m","l"], "range": ["#111111","#555555","#8a8a8a","#b4b4b4"]}, "legend": null}, "shape": {"field": "g", "type": "nominal", "scale": {"domain": ["k","d","m","l"], "range": ["square","diamond","triangle-up","cross"]}, "legend": null}, "size": {"field": "g", "type": "nominal", "scale": {"domain": ["k","d","m","l"], "range": [22,18,12,12]}, "legend": null}}},
  {"data": {"name": "ann"}, "transform": [{"filter": {"field": "p", "equal": "Attawapiskat-R"}}], "mark": {"type": "text", "font": "Lato", "fontWeight": "bold", "fontSize": 17.5, "align": "left", "baseline": "alphabetic", "lineBreak": "\n", "lineHeight": 28, "color": "#111111", "clip": false}, "encoding": {"x": {"datum": -39.64}, "y": {"datum": 15.8}, "text": {"field": "t"}}},
  {"data": {"name": "ann"}, "transform": [{"filter": {"field": "p", "equal": "Attawapiskat-R"}}], "mark": {"type": "text", "font": "Liberation Sans", "fontWeight": "bold", "fontSize": 13, "align": "center", "baseline": "middle", "color": "#222222", "clip": false}, "encoding": {"x": {"datum": -25.35}, "y": {"datum": 17.79}, "text": {"field": "p"}}}
 ]},
{"width": 182, "height": 280,
 "layer": [
  {"data": {"name": "ell"}, "transform": [{"filter": {"field": "p", "equal": "Missisa"}}], "mark": {"type": "line", "interpolate": "cardinal-closed"}, "encoding": {"x": {"field": "x", "type": "quantitative", "title": "δ¹³C ‰", "scale": {"domain": [-41.6, -9.1], "nice": false, "zero": false}, "axis": {"values": [-40,-35,-30,-25,-20,-15,-10], "labelExpr": "datum.value % 10 === 0 ? '-' + abs(datum.value) : ''"}}, "y": {"field": "y", "type": "quantitative", "title": "δ¹⁵N ‰", "scale": {"domain": [3.6, 16.5], "nice": false, "zero": false}, "axis": {"values": [4,6,8,10,12,14,16]}}, "detail": {"field": "g"}, "order": {"field": "k", "type": "quantitative"}, "color": {"field": "g", "type": "nominal", "scale": {"domain": ["k","d","m","l"], "range": ["#111111","#555555","#8a8a8a","#b4b4b4"]}, "legend": null}, "strokeWidth": {"field": "g", "type": "nominal", "scale": {"domain": ["k","d","m","l"], "range": [1.8,1.4,1.2,1.2]}, "legend": null}}},
  {"data": {"name": "pts"}, "transform": [{"filter": {"field": "p", "equal": "Missisa"}}], "mark": {"type": "point", "filled": true, "opacity": 1}, "encoding": {"x": {"field": "x", "type": "quantitative", "title": "δ¹³C ‰"}, "y": {"field": "y", "type": "quantitative", "title": "δ¹⁵N ‰"}, "color": {"field": "g", "type": "nominal", "scale": {"domain": ["k","d","m","l"], "range": ["#111111","#555555","#8a8a8a","#b4b4b4"]}, "legend": null}, "shape": {"field": "g", "type": "nominal", "scale": {"domain": ["k","d","m","l"], "range": ["square","diamond","triangle-up","cross"]}, "legend": null}, "size": {"field": "g", "type": "nominal", "scale": {"domain": ["k","d","m","l"], "range": [22,18,12,12]}, "legend": null}}},
  {"data": {"name": "ann"}, "transform": [{"filter": {"field": "p", "equal": "Missisa"}}], "mark": {"type": "text", "font": "Lato", "fontWeight": "bold", "fontSize": 17.5, "align": "left", "baseline": "alphabetic", "lineBreak": "\n", "lineHeight": 28, "color": "#111111", "clip": false}, "encoding": {"x": {"datum": -37.5}, "y": {"datum": 15.28}, "text": {"field": "t"}}},
  {"data": {"name": "ann"}, "transform": [{"filter": {"field": "p", "equal": "Missisa"}}], "mark": {"type": "text", "font": "Liberation Sans", "fontWeight": "bold", "fontSize": 13, "align": "center", "baseline": "middle", "color": "#222222", "clip": false}, "encoding": {"x": {"datum": -25.35}, "y": {"datum": 17.79}, "text": {"field": "p"}}}
 ]},
{"width": 182, "height": 280,
 "layer": [
  {"data": {"name": "ell"}, "transform": [{"filter": {"field": "p", "equal": "Winisk-R"}}], "mark": {"type": "line", "interpolate": "cardinal-closed"}, "encoding": {"x": {"field": "x", "type": "quantitative", "title": "δ¹³C ‰", "scale": {"domain": [-41.6, -9.1], "nice": false, "zero": false}, "axis": {"values": [-40,-35,-30,-25,-20,-15,-10], "labelExpr": "datum.value % 10 === 0 ? '-' + abs(datum.value) : ''"}}, "y": {"field": "y", "type": "quantitative", "title": "δ¹⁵N ‰", "scale": {"domain": [3.6, 16.5], "nice": false, "zero": false}, "axis": {"values": [4,6,8,10,12,14,16]}}, "detail": {"field": "g"}, "order": {"field": "k", "type": "quantitative"}, "color": {"field": "g", "type": "nominal", "scale": {"domain": ["k","d","m","l"], "range": ["#111111","#555555","#8a8a8a","#b4b4b4"]}, "legend": null}, "strokeWidth": {"field": "g", "type": "nominal", "scale": {"domain": ["k","d","m","l"], "range": [1.8,1.4,1.2,1.2]}, "legend": null}}},
  {"data": {"name": "pts"}, "transform": [{"filter": {"field": "p", "equal": "Winisk-R"}}], "mark": {"type": "point", "filled": true, "opacity": 1}, "encoding": {"x": {"field": "x", "type": "quantitative", "title": "δ¹³C ‰"}, "y": {"field": "y", "type": "quantitative", "title": "δ¹⁵N ‰"}, "color": {"field": "g", "type": "nominal", "scale": {"domain": ["k","d","m","l"], "range": ["#111111","#555555","#8a8a8a","#b4b4b4"]}, "legend": null}, "shape": {"field": "g", "type": "nominal", "scale": {"domain": ["k","d","m","l"], "range": ["square","diamond","triangle-up","cross"]}, "legend": null}, "size": {"field": "g", "type": "nominal", "scale": {"domain": ["k","d","m","l"], "range": [22,18,12,12]}, "legend": null}}},
  {"data": {"name": "ann"}, "transform": [{"filter": {"field": "p", "equal": "Winisk-R"}}], "mark": {"type": "text", "font": "Lato", "fontWeight": "bold", "fontSize": 17.5, "align": "left", "baseline": "alphabetic", "lineBreak": "\n", "lineHeight": 28, "color": "#111111", "clip": false}, "encoding": {"x": {"datum": -39.8}, "y": {"datum": 15.95}, "text": {"field": "t"}}},
  {"data": {"name": "ann"}, "transform": [{"filter": {"field": "p", "equal": "Winisk-R"}}], "mark": {"type": "text", "font": "Liberation Sans", "fontWeight": "bold", "fontSize": 13, "align": "center", "baseline": "middle", "color": "#222222", "clip": false}, "encoding": {"x": {"datum": -25.35}, "y": {"datum": 17.79}, "text": {"field": "p"}}}
 ]},
{"width": 182, "height": 280,
 "layer": [
  {"data": {"name": "ell"}, "transform": [{"filter": {"field": "p", "equal": "Big Trout"}}], "mark": {"type": "line", "interpolate": "cardinal-closed"}, "encoding": {"x": {"field": "x", "type": "quantitative", "title": "δ¹³C ‰", "scale": {"domain": [-41.6, -9.1], "nice": false, "zero": false}, "axis": {"values": [-40,-35,-30,-25,-20,-15,-10], "labelExpr": "datum.value % 10 === 0 ? '-' + abs(datum.value) : ''"}}, "y": {"field": "y", "type": "quantitative", "title": "δ¹⁵N ‰", "scale": {"domain": [3.6, 16.5], "nice": false, "zero": false}, "axis": {"values": [4,6,8,10,12,14,16]}}, "detail": {"field": "g"}, "order": {"field": "k", "type": "quantitative"}, "color": {"field": "g", "type": "nominal", "scale": {"domain": ["k","d","m","l"], "range": ["#111111","#555555","#8a8a8a","#b4b4b4"]}, "legend": null}, "strokeWidth": {"field": "g", "type": "nominal", "scale": {"domain": ["k","d","m","l"], "range": [1.8,1.4,1.2,1.2]}, "legend": null}}},
  {"data": {"name": "pts"}, "transform": [{"filter": {"field": "p", "equal": "Big Trout"}}], "mark": {"type": "point", "filled": true, "opacity": 1}, "encoding": {"x": {"field": "x", "type": "quantitative", "title": "δ¹³C ‰"}, "y": {"field": "y", "type": "quantitative", "title": "δ¹⁵N ‰"}, "color": {"field": "g", "type": "nominal", "scale": {"domain": ["k","d","m","l"], "range": ["#111111","#555555","#8a8a8a","#b4b4b4"]}, "legend": null}, "shape": {"field": "g", "type": "nominal", "scale": {"domain": ["k","d","m","l"], "range": ["square","diamond","triangle-up","cross"]}, "legend": null}, "size": {"field": "g", "type": "nominal", "scale": {"domain": ["k","d","m","l"], "range": [22,18,12,12]}, "legend": null}}},
  {"data": {"name": "ann"}, "transform": [{"filter": {"field": "p", "equal": "Big Trout"}}], "mark": {"type": "text", "font": "Lato", "fontWeight": "bold", "fontSize": 17.5, "align": "left", "baseline": "alphabetic", "lineBreak": "\n", "lineHeight": 28, "color": "#111111", "clip": false}, "encoding": {"x": {"datum": -38.9}, "y": {"datum": 15.55}, "text": {"field": "t"}}},
  {"data": {"name": "ann"}, "transform": [{"filter": {"field": "p", "equal": "Big Trout"}}], "mark": {"type": "text", "font": "Liberation Sans", "fontWeight": "bold", "fontSize": 13, "align": "center", "baseline": "middle", "color": "#222222", "clip": false}, "encoding": {"x": {"datum": -25.35}, "y": {"datum": 17.79}, "text": {"field": "p"}}}
 ]}
],
"config": {
 "view": {"stroke": null},
 "axis": {"grid": false, "domainColor": "#8a8a8a", "domainWidth": 1.6, "tickColor": "#8a8a8a", "tickWidth": 1.2, "tickSize": -6, "labelFont": "Liberation Sans", "labelFontSize": 12, "labelColor": "#666666", "titleFont": "Liberation Sans", "titleFontSize": 12, "titleFontWeight": "normal", "titleColor": "#333333", "labelFlush": false},
 "axisX": {"labelPadding": 24, "titlePadding": 15},
 "axisY": {"labelPadding": 20, "titlePadding": 15}
}
}
